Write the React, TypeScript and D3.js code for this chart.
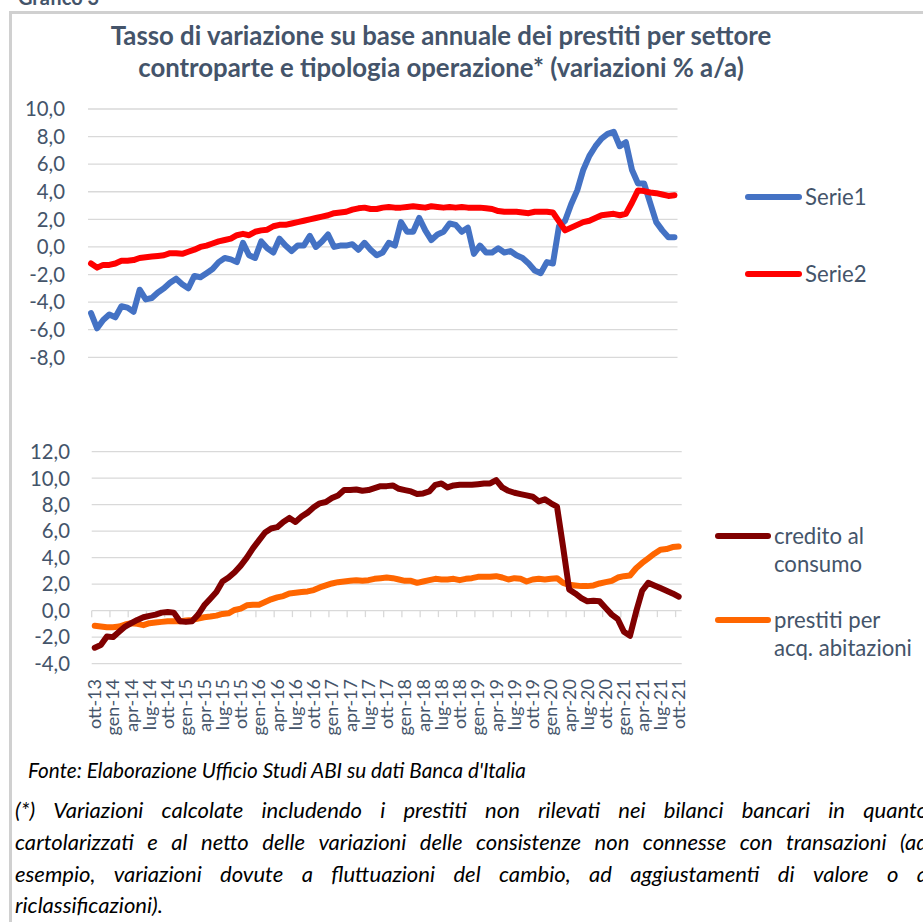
import React from 'react';
import * as d3 from 'd3';

// ---------- DATA ----------
const monthAbbr = ['gen', 'feb', 'mar', 'apr', 'mag', 'giu', 'lug', 'ago', 'set', 'ott', 'nov', 'dic'];
const categories: string[] = d3.range(97).map((i) => {
  const m = (9 + i) % 12;
  const y = 13 + Math.floor((9 + i) / 12);
  return `${monthAbbr[m]}-${y}`;
});

const serie1 = [
  -4.8, -5.9, -5.3, -4.9, -5.1, -4.3, -4.4, -4.7, -3.1, -3.8,
  -3.7, -3.3, -3.0, -2.6, -2.3, -2.7, -3.0, -2.1, -2.2, -1.9,
  -1.6, -1.1, -0.8, -0.9, -1.1, 0.3, -0.6, -0.8, 0.4, -0.1,
  -0.4, 0.6, 0.1, -0.3, 0.1, 0.1, 0.8, 0.0, 0.4, 0.9,
  0.0, 0.1, 0.1, 0.2, -0.2, 0.3, -0.2, -0.6, -0.4, 0.3,
  0.1, 1.8, 1.1, 1.1, 2.1, 1.2, 0.5, 0.9, 1.1, 1.7,
  1.6, 1.1, 1.4, -0.5, 0.1, -0.4, -0.4, -0.1, -0.4, -0.3,
  -0.6, -0.8, -1.2, -1.7, -1.9, -1.1, -1.2, 1.5, 1.9, 3.1,
  4.1, 5.6, 6.6, 7.3, 7.85, 8.2, 8.35, 7.3, 7.6, 5.6,
  4.6, 4.6, 3.2, 1.8, 1.2, 0.7, 0.7,
];

const serie2 = [
  -1.2, -1.5, -1.3, -1.3, -1.2, -1.0, -1.0, -0.95, -0.8, -0.75,
  -0.7, -0.65, -0.6, -0.45, -0.45, -0.5, -0.35, -0.2, 0.0, 0.1,
  0.25, 0.4, 0.5, 0.6, 0.85, 0.95, 0.85, 1.1, 1.2, 1.25,
  1.5, 1.6, 1.6, 1.7, 1.8, 1.9, 2.0, 2.1, 2.2, 2.3,
  2.45, 2.5, 2.55, 2.7, 2.8, 2.85, 2.75, 2.75, 2.85, 2.9,
  2.85, 2.85, 2.9, 2.95, 2.9, 2.85, 2.95, 2.9, 2.85, 2.9,
  2.85, 2.9, 2.85, 2.85, 2.85, 2.8, 2.75, 2.6, 2.55, 2.55,
  2.55, 2.5, 2.45, 2.55, 2.55, 2.55, 2.5, 1.85, 1.2, 1.4,
  1.6, 1.8, 1.9, 2.1, 2.3, 2.35, 2.4, 2.3, 2.4, 3.2,
  4.1, 4.05, 3.95, 3.9, 3.8, 3.7, 3.75,
];

const creditoConsumo = [
  -2.8, -2.6, -1.95, -2.0, -1.6, -1.2, -0.95, -0.7, -0.5, -0.4,
  -0.3, -0.15, -0.1, -0.15, -0.8, -0.85, -0.8, -0.3, 0.4, 0.9,
  1.4, 2.2, 2.5, 2.9, 3.4, 4.0, 4.7, 5.3, 5.9, 6.2,
  6.3, 6.7, 7.0, 6.7, 7.1, 7.4, 7.8, 8.1, 8.2, 8.5,
  8.7, 9.1, 9.1, 9.15, 9.05, 9.1, 9.25, 9.4, 9.4, 9.45,
  9.2, 9.1, 9.0, 8.8, 8.85, 9.0, 9.5, 9.6, 9.3, 9.45,
  9.5, 9.5, 9.5, 9.55, 9.6, 9.6, 9.85, 9.3, 9.05, 8.9,
  8.8, 8.7, 8.6, 8.25, 8.4, 8.1, 7.85, 4.8, 1.6, 1.3,
  0.95, 0.7, 0.75, 0.7, 0.2, -0.3, -0.65, -1.6, -1.9, -0.1,
  1.5, 2.1, 1.9, 1.7, 1.5, 1.3, 1.05,
];

const prestitiAbitazioni = [
  -1.15, -1.2, -1.25, -1.25, -1.2, -1.05, -0.95, -1.0, -1.1, -0.95,
  -0.9, -0.85, -0.8, -0.8, -0.8, -0.75, -0.7, -0.6, -0.5, -0.45,
  -0.38, -0.25, -0.2, 0.05, 0.15, 0.4, 0.45, 0.45, 0.65, 0.85,
  1.0, 1.1, 1.3, 1.35, 1.4, 1.45, 1.55, 1.75, 1.9, 2.05,
  2.15, 2.2, 2.25, 2.3, 2.25, 2.3, 2.4, 2.45, 2.5, 2.45,
  2.35, 2.25, 2.25, 2.1, 2.2, 2.3, 2.4, 2.35, 2.35, 2.4,
  2.3, 2.4, 2.45, 2.55, 2.55, 2.55, 2.6, 2.5, 2.35, 2.45,
  2.4, 2.2, 2.35, 2.4, 2.35, 2.4, 2.45, 2.1, 1.95, 1.9,
  1.85, 1.85, 1.9, 2.05, 2.15, 2.25, 2.5, 2.6, 2.65, 3.2,
  3.6, 3.95, 4.3, 4.6, 4.65, 4.8, 4.85,
];

const topTicks = [10, 8, 6, 4, 2, 0, -2, -4, -6, -8];
const bottomTicks = [12, 10, 8, 6, 4, 2, 0, -2, -4];
const xTickLabels = [
  'ott-13', 'gen-14', 'apr-14', 'lug-14', 'ott-14', 'gen-15', 'apr-15', 'lug-15', 'ott-15',
  'gen-16', 'apr-16', 'lug-16', 'ott-16', 'gen-17', 'apr-17', 'lug-17', 'ott-17', 'gen-18',
  'apr-18', 'lug-18', 'ott-18', 'gen-19', 'apr-19', 'lug-19', 'ott-19', 'gen-20', 'apr-20',
  'lug-20', 'ott-20', 'gen-21', 'apr-21', 'lug-21', 'ott-21',
];

const topSeriesNames = ['Serie1', 'Serie2'];
const bottomSeriesNames = [['credito al', 'consumo'], ['prestiti per', 'acq. abitazioni']];

const titleLines = [
  'Tasso di variazione su base annuale dei prestiti per settore',
  'controparte e tipologia operazione* (variazioni % a/a)',
];
const sourceText = "Fonte: Elaborazione Ufficio Studi ABI su dati Banca d'Italia";
const noteLines = [
  '(*) Variazioni calcolate includendo i prestiti non rilevati nei bilanci bancari in quanto',
  'cartolarizzati e al netto delle variazioni delle consistenze non connesse con transazioni (ad',
  'esempio, variazioni dovute a fluttuazioni del cambio, ad aggiustamenti di valore o a',
  'riclassificazioni).',
];

// ---------- HELPERS ----------
const FAMILY = 'Lato';
const TEXT = '#44546A';
let ctx: CanvasRenderingContext2D | null = null;
function textWidth(t: string, font: string): number {
  if (!ctx) ctx = document.createElement('canvas').getContext('2d');
  ctx!.font = font;
  return ctx!.measureText(t).width;
}
function fitSize(t: string, target: number, weight = 'normal', style = 'normal'): number {
  const w = textWidth(t, `${style} ${weight} 100px ${FAMILY}`);
  return (100 * target) / w;
}
const fmt = (v: number) => v.toFixed(1).replace('.', ',');

export default function App() {
  const W = 923;
  const H = 922;

  // scales
  const xTop = d3.scaleBand<string>().domain(categories).range([88, 677.5]);
  const yTop = d3.scaleLinear().domain([-8, 10]).range([357.3, 109]);
  const xBot = d3.scaleBand<string>().domain(categories).range([91.7, 681.7]);
  const yBot = d3.scaleLinear().domain([-4, 12]).range([663.6, 451.7]);

  const lineTop = d3
    .line<number>()
    .x((_, i) => (xTop(categories[i]) as number) + xTop.bandwidth() / 2)
    .y((d) => yTop(d));
  const lineBot = d3
    .line<number>()
    .x((_, i) => (xBot(categories[i]) as number) + xBot.bandwidth() / 2)
    .y((d) => yBot(d));

  // font sizes
  const titleSize = (fitSize(titleLines[0], 672, 'bold') + fitSize(titleLines[1], 597, 'bold')) / 2;
  const axisSize = fitSize('10,0', 40);
  const legendSize = fitSize('acq. abitazioni', 138);
  const xLabSize = fitSize('ott-13', 50);
  const sourceSize = fitSize(sourceText, 499, 'normal', 'italic');
  const noteSize = fitSize(noteLines[3], 148, 'normal', 'italic');

  const noteFont = `italic normal ${noteSize}px ${FAMILY}`;
  const noteL = 15;
  const noteR = 928;
  const noteY = [818, 850, 882, 913];

  const LW = 6;
  const colors = { s1: '#4472C4', s2: '#FF0000', c: '#800000', p: '#FF6600' };
  const tickBoundaries = d3.range(0, 97, 3);

  return (
    <svg
      width={W}
      height={H}
      style={{ position: 'absolute', left: 0, top: 0, background: '#fff' }}
      fontFamily={FAMILY}
    >
      <rect width={W} height={H} fill="#fff" />
      <text x={18} y={5} fontSize={20} fontWeight="bold" fill={TEXT}>
        Grafico 3
      </text>
      <path d="M10.5,922 V12.5 H923" stroke="#d0d0d0" strokeWidth={3} fill="none" />

      {/* Title */}
      {titleLines.map((t, i) => (
        <text
          key={t}
          x={441}
          y={45 + i * 32}
          textAnchor="middle"
          fontSize={titleSize}
          fontWeight="bold"
          fill={TEXT}
        >
          {t}
        </text>
      ))}

      {/* Top chart */}
      <g>
        {topTicks.map((v) => (
          <g key={'tg' + v}>
            <line x1={88} x2={677.5} y1={yTop(v)} y2={yTop(v)} stroke="#d9d9d9" strokeWidth={1.3} />
            <text x={65} y={yTop(v)} dy="0.36em" textAnchor="end" fontSize={axisSize} fill={TEXT}>
              {fmt(v)}
            </text>
          </g>
        ))}
        <path d={lineTop(serie1) || ''} fill="none" stroke={colors.s1} strokeWidth={LW} strokeLinejoin="round" strokeLinecap="round" />
        <path d={lineTop(serie2) || ''} fill="none" stroke={colors.s2} strokeWidth={LW} strokeLinejoin="round" strokeLinecap="round" />
        {topSeriesNames.map((n, i) => (
          <g key={n}>
            <line x1={748} x2={799} y1={197 + i * 77} y2={197 + i * 77} stroke={i === 0 ? colors.s1 : colors.s2} strokeWidth={6} strokeLinecap="round" />
            <text x={805} y={197 + i * 77} dy="0.36em" fontSize={legendSize} fill={TEXT}>
              {n}
            </text>
          </g>
        ))}
      </g>

      {/* Bottom chart */}
      <g>
        {bottomTicks.map((v) => (
          <g key={'bg' + v}>
            <line x1={91.7} x2={681.7} y1={yBot(v)} y2={yBot(v)} stroke="#d9d9d9" strokeWidth={1.3} />
            <text x={70} y={yBot(v)} dy="0.36em" textAnchor="end" fontSize={axisSize} fill={TEXT}>
              {fmt(v)}
            </text>
          </g>
        ))}
        {tickBoundaries.map((k) => (
          <line
            key={'tk' + k}
            x1={xBot(categories[k]) as number}
            x2={xBot(categories[k]) as number}
            y1={yBot(0)}
            y2={yBot(0) + 6.5}
            stroke="#d9d9d9"
            strokeWidth={1.3}
          />
        ))}
        {xTickLabels.map((l) => {
          const cx = (xBot(l) as number) + xBot.bandwidth() / 2;
          return (
            <text
              key={l}
              transform={`translate(${cx},679) rotate(-90)`}
              dy="0.36em"
              textAnchor="end"
              fontSize={xLabSize}
              fill={TEXT}
            >
              {l}
            </text>
          );
        })}
        <path d={lineBot(prestitiAbitazioni) || ''} fill="none" stroke={colors.p} strokeWidth={LW} strokeLinejoin="round" strokeLinecap="round" />
        <path d={lineBot(creditoConsumo) || ''} fill="none" stroke={colors.c} strokeWidth={LW} strokeLinejoin="round" strokeLinecap="round" />
        {bottomSeriesNames.map((lines, i) => (
          <g key={lines[0]}>
            <line x1={718} x2={768} y1={536 + i * 84} y2={536 + i * 84} stroke={i === 0 ? colors.c : colors.p} strokeWidth={6} strokeLinecap="round" />
            {lines.map((t, j) => (
              <text key={t} x={774} y={536 + i * 84 + j * 28} dy="0.36em" fontSize={legendSize} fill={TEXT}>
                {t}
              </text>
            ))}
          </g>
        ))}
      </g>

      {/* Source */}
      <text x={28} y={778} fontSize={sourceSize} fontStyle="italic" fill="#000">
        {sourceText}
      </text>

      {/* Note (justified, clipped at the right edge as in the original page) */}
      {noteLines.map((line, li) => {
        const words = line.split(' ');
        const justify = li < noteLines.length - 1;
        const widths = words.map((w) => textWidth(w, noteFont));
        const total = d3.sum(widths);
        const space = textWidth(' ', noteFont);
        const gap = justify ? (noteR - noteL - total) / (words.length - 1) : space;
        let x = noteL;
        return (
          <text key={li} y={noteY[li]} fontSize={noteSize} fontStyle="italic" fill="#000">
            {words.map((w, wi) => {
              const px = x;
              x += widths[wi] + gap;
              return (
                <tspan key={wi} x={px}>
                  {w}
                </tspan>
              );
            })}
          </text>
        );
      })}
    </svg>
  );
}
